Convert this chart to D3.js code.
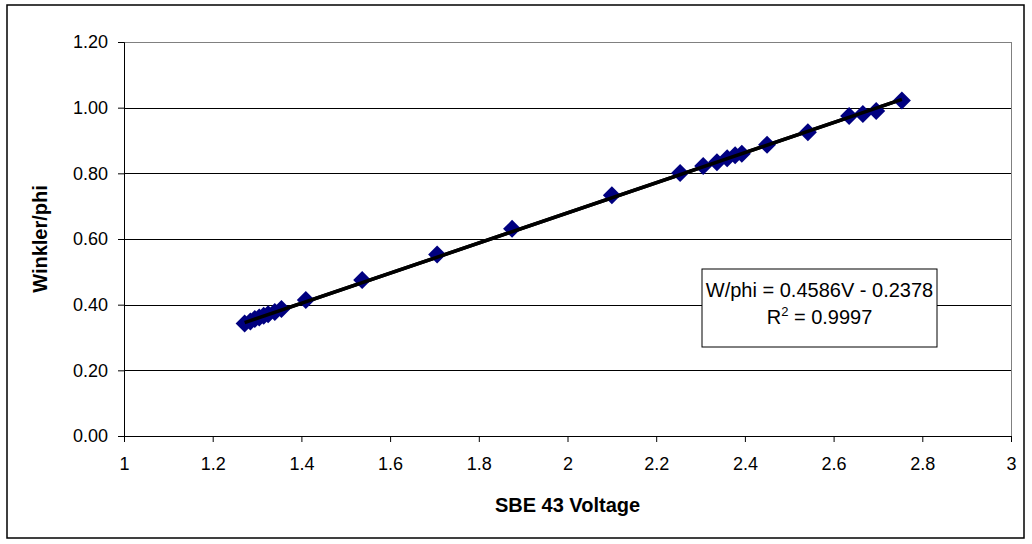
<!DOCTYPE html>
<html><head><meta charset="utf-8">
<script src="https://cdn.jsdelivr.net/npm/d3@7"></script>
<style>
html,body{margin:0;padding:0;background:#fff;}
text{font-family:"Liberation Sans",Arial,sans-serif;}
</style></head>
<body>
<svg id="chart" width="1032" height="544"></svg>
<script>
// Data
const voltage = [1.272,1.285,1.295,1.305,1.315,1.325,1.34,1.355,1.41,1.537,1.706,1.875,2.100,2.254,2.306,2.337,2.360,2.378,2.393,2.450,2.542,2.635,2.666,2.696,2.754];
const winklerPhi = [0.343,0.349,0.356,0.361,0.366,0.371,0.378,0.387,0.414,0.475,0.553,0.631,0.733,0.801,0.822,0.834,0.846,0.855,0.860,0.887,0.925,0.975,0.981,0.990,1.022];
const fitSlope = 0.4586, fitIntercept = -0.2378;
const xTicks = [1,1.2,1.4,1.6,1.8,2,2.2,2.4,2.6,2.8,3];
const yTicks = [0,0.2,0.4,0.6,0.8,1.0,1.2];
const eqLine1 = "W/phi = 0.4586V - 0.2378";
const eqR2 = "0.9997";

const svg = d3.select("#chart");
const L=124, R=1011, T=42, B=436;
const x = d3.scaleLinear().domain([1,3]).range([L,R]);
const y = d3.scaleLinear().domain([0,1.2]).range([B,T]);

// outer border
svg.append("rect").attr("x",7).attr("y",5).attr("width",1017).attr("height",533)
  .attr("fill","#fff").attr("stroke","#000").attr("stroke-width",1.5);

// plot area border (gray)
svg.append("rect").attr("x",L).attr("y",T).attr("width",R-L).attr("height",B-T)
  .attr("fill","none").attr("stroke","#808080").attr("stroke-width",1).attr("shape-rendering","crispEdges");

// gridlines
svg.append("g").selectAll("line").data(yTicks.filter(d=>d>0)).join("line")
  .attr("x1",L).attr("x2",R).attr("y1",d=>Math.round(y(d))+0.5).attr("y2",d=>Math.round(y(d))+0.5)
  .attr("stroke",d=>d===1.2?"#808080":"#000").attr("stroke-width",1);

// axes
const xAxis = d3.axisBottom(x).tickValues(xTicks).tickFormat(d=>String(d)).tickSize(6).tickPadding(15);
const yAxis = d3.axisLeft(y).tickValues(yTicks).tickFormat(d3.format(".2f")).tickSize(6).tickPadding(10);
const gx = svg.append("g").attr("transform",`translate(0,${B})`).call(xAxis);
const gy = svg.append("g").attr("transform",`translate(${L},0)`).call(yAxis);
[gx,gy].forEach(g=>{
  g.select(".domain").attr("stroke","#000").attr("stroke-width",1);
  g.selectAll(".tick line").attr("stroke","#000");
  g.selectAll(".tick text").attr("font-size",18).attr("fill","#000")
    .attr("font-family","'Liberation Sans',Arial,sans-serif");
});

// trendline
const xMin = d3.min(voltage), xMax = d3.max(voltage);
svg.append("line")
  .attr("x1",x(xMin)).attr("y1",y(fitSlope*xMin+fitIntercept))
  .attr("x2",x(xMax)).attr("y2",y(fitSlope*xMax+fitIntercept))
  .attr("stroke","#000").attr("stroke-width",3.5);

// points (diamonds)
const pts = voltage.map((v,i)=>({v, w: winklerPhi[i]}));
const dPath = "M0,-9L9,0L0,9L-9,0Z";
svg.append("g").selectAll("path").data(pts).join("path")
  .attr("d",dPath)
  .attr("transform",d=>`translate(${x(d.v)},${y(d.w)})`)
  .attr("fill","#000080");

// trendline drawn above? In reference line is on top of markers
svg.append("line")
  .attr("x1",x(xMin)).attr("y1",y(fitSlope*xMin+fitIntercept))
  .attr("x2",x(xMax)).attr("y2",y(fitSlope*xMax+fitIntercept))
  .attr("stroke","#000").attr("stroke-width",3.5);

// equation box
const bx=702, by=269, bw=235, bh=78;
svg.append("rect").attr("x",bx).attr("y",by).attr("width",bw).attr("height",bh)
  .attr("fill","#fff").attr("stroke","#000").attr("stroke-width",1);
svg.append("text").attr("x",bx+bw/2).attr("y",297).attr("text-anchor","middle")
  .attr("font-size",20).text(eqLine1);
const t2 = svg.append("text").attr("x",bx+bw/2).attr("y",324).attr("text-anchor","middle").attr("font-size",20);
t2.append("tspan").text("R");
t2.append("tspan").attr("dy",-8).attr("font-size",13).text("2");
t2.append("tspan").attr("dy",8).text(" = " + eqR2);

// axis titles
svg.append("text").attr("x",(L+R)/2).attr("y",512).attr("text-anchor","middle")
  .attr("font-size",20).attr("font-weight","bold").text("SBE 43 Voltage");
svg.append("text").attr("transform",`translate(47,${(T+B)/2}) rotate(-90)`)
  .attr("text-anchor","middle").attr("font-size",20).attr("font-weight","bold").text("Winkler/phi");
</script>
</body></html>
